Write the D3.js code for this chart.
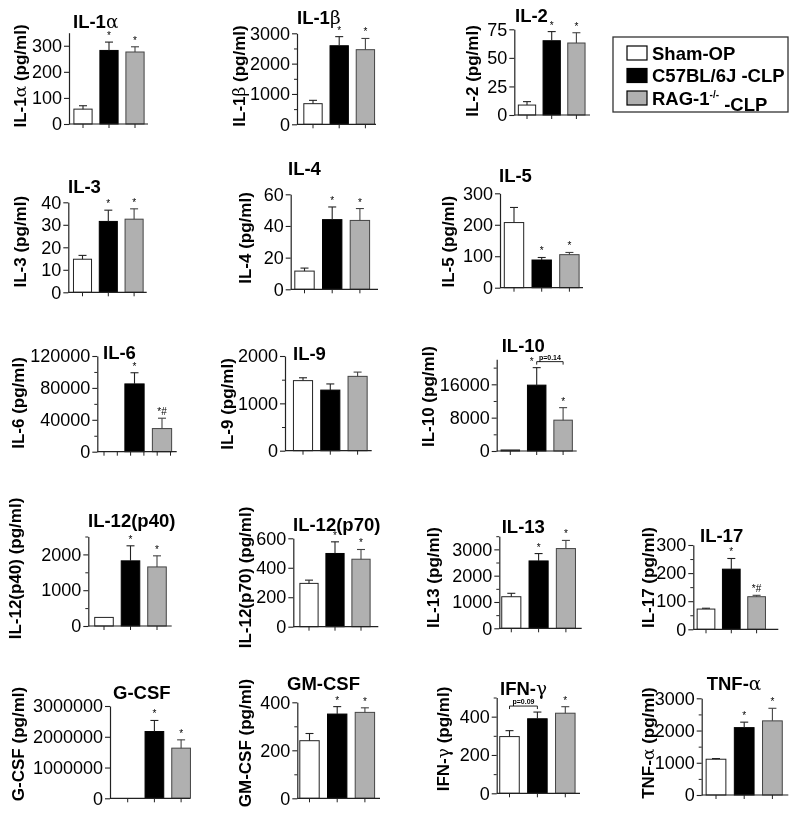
<!DOCTYPE html>
<html>
<head>
<meta charset="utf-8">
<script src="https://cdn.jsdelivr.net/npm/d3@7"></script>
<style>
  html, body { margin: 0; padding: 0; background: #fff; }
  svg { display: block; filter: grayscale(100%); }
  text { font-family: "Liberation Sans", Arial, Helvetica, sans-serif; fill: #000; }
</style>
</head>
<body>
<svg id="chart" width="800" height="825"></svg>
<script>
// ---------------- DATA ----------------
const groups = ["Sham-OP", "C57BL/6J -CLP", "RAG-1-/- -CLP"];
const cytokines = ["IL-1α","IL-1β","IL-2","IL-3","IL-4","IL-5","IL-6","IL-9","IL-10","IL-12(p40)","IL-12(p70)","IL-13","IL-17","G-CSF","GM-CSF","IFN-γ","TNF-α"];
const yLabels = ["IL-1α (pg/ml)","IL-1β (pg/ml)","IL-2 (pg/ml)","IL-3 (pg/ml)","IL-4 (pg/ml)","IL-5 (pg/ml)","IL-6 (pg/ml)","IL-9 (pg/ml)","IL-10 (pg/ml)","IL-12(p40) (pg/ml)","IL-12(p70) (pg/ml)","IL-13 (pg/ml)","IL-17 (pg/ml)","G-CSF (pg/ml)","GM-CSF (pg/ml)","IFN-γ (pg/ml)","TNF-α (pg/ml)"];

const shamMean = [57, 680, 8.7, 14.7, 11.5, 207, 0, 1480, 250, 240, 294, 1200, 72, 0, 240, 296, 1110];
const shamSEM  = [13, 110, 3, 1.7, 1.9, 48, 0, 60, 0, 0, 22, 130, 3, 0, 30, 31, 20];
const c57Mean  = [282, 2590, 65, 31.5, 44, 88, 85000, 1280, 15800, 1820, 497, 2560, 214, 2170000, 351, 389, 2090];
const c57SEM   = [32, 300, 8, 5, 8, 8, 14000, 130, 4200, 420, 79, 280, 38, 360000, 31, 35, 170];
const ragMean  = [276, 2460, 63, 32.5, 43.5, 105, 29000, 1570, 7400, 1650, 458, 3030, 116, 1630000, 358, 418, 2300];
const ragSEM   = [20, 370, 9, 4.6, 7.5, 7, 13000, 90, 3000, 310, 66, 310, 5, 270000, 19, 34, 390];

const yMax = [350, 3000, 75, 40, 60, 300, 120000, 2000, 22000, 2500, 600, 3500, 300, 3000000, 400, 500, 3000];
const yTickValues = [
  [0,100,200,300],[0,1000,2000,3000],[0,25,50,75],[0,10,20,30,40],[0,20,40,60],[0,100,200,300],
  [0,40000,80000,120000],[0,1000,2000],[0,8000,16000],[0,1000,2000],[0,200,400,600],[0,1000,2000,3000],
  [0,100,200,300],[0,1000000,2000000,3000000],[0,200,400],[0,200,400],[0,1000,2000,3000]
];
const minorStep = [0, 500, 0, 0, 0, 0, 20000, 500, 4000, 500, 0, 500, 50, 0, 100, 100, 500];

const shamSig = ["","","","","","","","","","","","","","","","",""];
const c57Sig  = ["*","*","*","*","*","*","*","","*","*","*","*","*","*","*","","*"];
const ragSig  = ["*","*","*","*","*","*","*#","","*","*","*","*","*#","*","*","*","*"];

// brackets: panel index, from group, to group, label
const bracketPanel = [8, 15];
const bracketFrom  = [1, 0];
const bracketTo    = [2, 1];
const bracketText  = ["p=0.14", "p=0.09"];

// ---------------- LAYOUT (pixels) ----------------
// [axisX, y0px, yTopPx, xEnd, firstCenter, step, labelX, titleX, titleBaseline, labelCenterY]
const layout = [
  [69, 124, 32.7, 148, 83, 26, 20, 73, 28, 76],
  [297, 124.3, 33.3, 376, 313, 26.2, 239, 297, 24, 76],
  [514.3, 115, 29.3, 590, 527, 24.7, 472, 515, 21.7, 71],
  [68.3, 292.3, 202.3, 146.7, 82.5, 25.8, 20, 68, 193, 241.7],
  [290.7, 289.3, 194.3, 378, 304.5, 27.7, 245, 288, 175, 238],
  [500, 287.7, 193.3, 583, 514, 27.7, 448, 499, 182, 241.7],
  [97.3, 451.7, 356, 176.7, 107, 27.5, 18, 103, 359, 403],
  [285, 450.7, 356, 371.7, 303, 27.3, 227, 293, 360, 404],
  [496.7, 451, 359.3, 576.7, 510.3, 26.4, 428, 501.7, 351.7, 396.5],
  [88.3, 626, 536.5, 171.7, 104, 26.5, 15, 88, 526.7, 568.5],
  [293.3, 626.7, 538.3, 378.3, 309, 26, 245, 293, 530.7, 577.5],
  [499.3, 628.3, 536.2, 581.7, 511.3, 27.3, 433, 501.7, 532.7, 577.5],
  [693.3, 629.3, 545, 778.3, 706, 25.3, 648, 700, 541.7, 577.5],
  [110, 798.3, 706, 190, 127.7, 26.7, 18, 113, 699, 744],
  [297.3, 798.3, 702.3, 380, 309.5, 27.7, 245, 287, 690, 743],
  [496.7, 793.3, 697.5, 580, 509.5, 27.9, 443, 500, 695, 739],
  [701.7, 795, 698.3, 788.3, 716, 28.2, 648, 706.7, 690, 743]
];

const fills = ["#ffffff", "#000000", "#b0b0b0"];
const strokes = ["#222", "#000", "#444"];

const svg = d3.select("#chart");

function richText(sel, str) {
  const parts = str.split(/([αβγ])/);
  parts.forEach(p => {
    if (!p) return;
    const t = sel.append("tspan").text(p);
    if (/[αβγ]/.test(p)) t.attr("font-weight", "normal").attr("font-family", "'DejaVu Serif', 'Liberation Serif', serif");
  });
}

function makeX(i) {
  const [, , , , c0, step] = layout[i];
  return d3.scaleBand().domain(groups)
    .range([c0 - step / 2, c0 + 2.5 * step])
    .paddingInner(0.3).paddingOuter(0.15);
}

cytokines.forEach((name, i) => {
  const [ax, y0, yTop, xEnd, c0, step, labelX, titleX, titleY, labelY] = layout[i];
  const g = svg.append("g");
  const y = d3.scaleLinear().domain([0, yMax[i]]).range([y0, yTop]);
  const x = makeX(i);

  const means = [shamMean[i], c57Mean[i], ragMean[i]];
  const sems = [shamSEM[i], c57SEM[i], ragSEM[i]];
  const sigs = [shamSig[i], c57Sig[i], ragSig[i]];
  const bIdx = bracketPanel.indexOf(i);

  groups.forEach((grp, k) => {
    const h = y(0) - y(means[k]);
    if (h > 0.2) {
      g.append("rect")
        .attr("x", x(grp)).attr("y", y(means[k]))
        .attr("width", x.bandwidth()).attr("height", Math.max(h, 1))
        .attr("fill", fills[k]).attr("stroke", strokes[k]).attr("stroke-width", 1);
    }
    const cx = x(grp) + x.bandwidth() / 2;
    if (sems[k] > 0) {
      const yt = y(means[k] + sems[k]);
      const col = k === 2 ? "#444" : "#222";
      g.append("line").attr("x1", cx).attr("x2", cx).attr("y1", y(means[k])).attr("y2", yt)
        .attr("stroke", col).attr("stroke-width", 1.1);
      g.append("line").attr("x1", cx - 4).attr("x2", cx + 4).attr("y1", yt).attr("y2", yt)
        .attr("stroke", col).attr("stroke-width", 1.1);
    }
    if (sigs[k]) {
      const shift = (bIdx >= 0 && bracketFrom[bIdx] === k) ? -5 : 0;
      g.append("text").attr("x", cx + shift).attr("y", y(means[k] + sems[k]) - 3)
        .attr("text-anchor", "middle").attr("font-size", 10).text(sigs[k]);
    }
  });

  if (minorStep[i] > 0) {
    const minors = d3.range(0, yMax[i] + 1e-9, minorStep[i]).filter(v => !yTickValues[i].includes(v));
    g.append("g").attr("transform", `translate(${ax},0)`)
      .call(d3.axisLeft(y).tickValues(minors).tickSize(3).tickFormat("").tickSizeOuter(0))
      .call(s => s.select(".domain").remove())
      .call(s => s.selectAll("line").attr("stroke", "#222"));
  }
  g.append("g").attr("transform", `translate(${ax},0)`)
    .call(d3.axisLeft(y).tickValues(yTickValues[i]).tickSize(5).tickPadding(2).tickSizeOuter(0).tickFormat(d3.format("d")))
    .call(s => s.select(".domain").attr("stroke", "#222").attr("stroke-width", 1.2))
    .call(s => s.selectAll("line").attr("stroke", "#222").attr("stroke-width", 1.1))
    .call(s => s.selectAll("text").attr("font-size", 18).attr("font-family", "'Liberation Sans', Arial, sans-serif").attr("fill", "#000"));

  const xs = d3.scaleLinear().domain([0, 1]).range([ax, xEnd]);
  g.append("line").attr("x1", xs(0)).attr("x2", xs(1)).attr("y1", y0).attr("y2", y0)
    .attr("stroke", "#222").attr("stroke-width", 1.2);
  let xticks = groups.map(grp => x(grp) + x.bandwidth() / 2);
  if (name === "IL-6") xticks = d3.range(6).map(k => ax + 6.7 + k * 13.3);
  xticks.forEach(tx => {
    g.append("line").attr("x1", tx).attr("x2", tx).attr("y1", y0).attr("y2", y0 + 4)
      .attr("stroke", "#222").attr("stroke-width", 1);
  });

  const t = g.append("text").attr("x", titleX).attr("y", titleY)
    .attr("font-size", 18.5).attr("font-weight", "bold");
  richText(t, name);

  const yl = g.append("text")
    .attr("transform", `translate(${labelX},${labelY}) rotate(-90)`)
    .attr("text-anchor", "middle").attr("dy", "0.35em")
    .attr("font-size", 17).attr("font-weight", "bold");
  richText(yl, yLabels[i]);
});

bracketPanel.forEach((pi, b) => {
  const [ax, y0, yTop] = layout[pi];
  const y = d3.scaleLinear().domain([0, yMax[pi]]).range([y0, yTop]);
  const x = makeX(pi);
  const g1 = groups[bracketFrom[b]], g2 = groups[bracketTo[b]];
  const x1 = x(g1) + x.bandwidth() / 2, x2 = x(g2) + x.bandwidth() / 2;
  const allTop = [shamMean[pi] + shamSEM[pi], c57Mean[pi] + c57SEM[pi], ragMean[pi] + ragSEM[pi]];
  const top = Math.max(allTop[bracketFrom[b]], allTop[bracketTo[b]]);
  const by = Math.max(y(top) - 6, yTop + 2);
  svg.append("path")
    .attr("d", `M${x1},${by + 3}V${by}H${x2}V${by + 3}`)
    .attr("fill", "none").attr("stroke", "#222").attr("stroke-width", 1);
  svg.append("text").attr("x", (x1 + x2) / 2).attr("y", by - 2)
    .attr("text-anchor", "middle").attr("font-size", 7).attr("font-weight", "bold").text(bracketText[b]);
});

const legend = svg.append("g");
legend.append("rect").attr("x", 613).attr("y", 37).attr("width", 175).attr("height", 75)
  .attr("fill", "#fff").attr("stroke", "#333").attr("stroke-width", 1.3);
groups.forEach((grp, k) => {
  const cy = 53 + k * 22.5;
  legend.append("rect").attr("x", 627).attr("y", cy - 7).attr("width", 20).attr("height", 14)
    .attr("fill", fills[k]).attr("stroke", "#000").attr("stroke-width", 1.2);
  const t = legend.append("text").attr("x", 652).attr("y", cy).attr("dy", "0.36em")
    .attr("font-size", 18.5).attr("font-weight", "bold");
  if (grp.startsWith("RAG")) {
    t.append("tspan").text("RAG-1");
    t.append("tspan").attr("font-size", 10).attr("dy", "-0.7em").text("-/-");
    t.append("tspan").attr("dy", "0.7em").text(" -CLP");
  } else {
    t.text(grp);
  }
});
</script>
</body>
</html>
